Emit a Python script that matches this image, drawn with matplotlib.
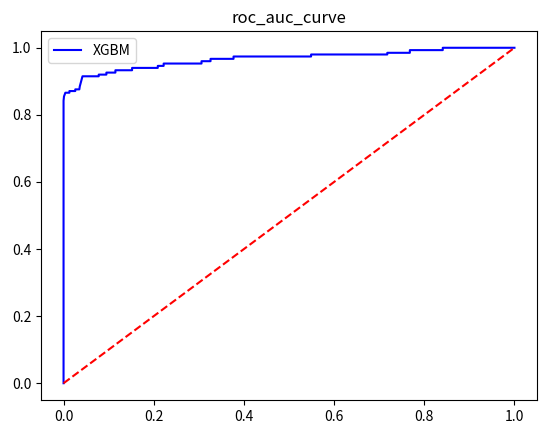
import matplotlib
matplotlib.use('Agg')
import matplotlib.pyplot as plt

plt.rcParams['font.family'] = ['Noto Sans CJK KR', 'DejaVu Sans']

# roc curve points
fpr = [0.0, 0.0, 0.001, 0.004, 0.013, 0.013, 0.026, 0.026, 0.035, 0.036, 0.040,
       0.042, 0.078, 0.078, 0.095, 0.095, 0.115, 0.115, 0.152, 0.152, 0.209,
       0.209, 0.222, 0.222, 0.306, 0.306, 0.326, 0.326, 0.377, 0.377, 0.549,
       0.549, 0.718, 0.718, 0.768, 0.768, 0.841, 0.841, 1.0]
tpr = [0.0, 0.842, 0.855, 0.866, 0.866, 0.871, 0.871, 0.876, 0.876, 0.885, 0.905,
       0.915, 0.915, 0.920, 0.920, 0.926, 0.926, 0.933, 0.933, 0.940, 0.940,
       0.946, 0.946, 0.953, 0.953, 0.960, 0.960, 0.967, 0.967, 0.974, 0.974,
       0.980, 0.980, 0.985, 0.985, 0.993, 0.993, 1.0, 1.0]
diag = [0, 1]

fig = plt.figure(figsize=(5.46, 4.33), dpi=100)
ax = fig.add_axes([0.0751, 0.0762, 0.9084, 0.8522])
ax.plot(fpr, tpr, color='blue', label='XGBM')
ax.plot(diag, diag, 'r--')
ax.set_xlim(-0.05, 1.05)
ax.set_ylim(-0.05, 1.05)
ax.set_title('roc_auc_curve')
ax.legend(loc='upper left')
fig.savefig('out.png', dpi=100)
